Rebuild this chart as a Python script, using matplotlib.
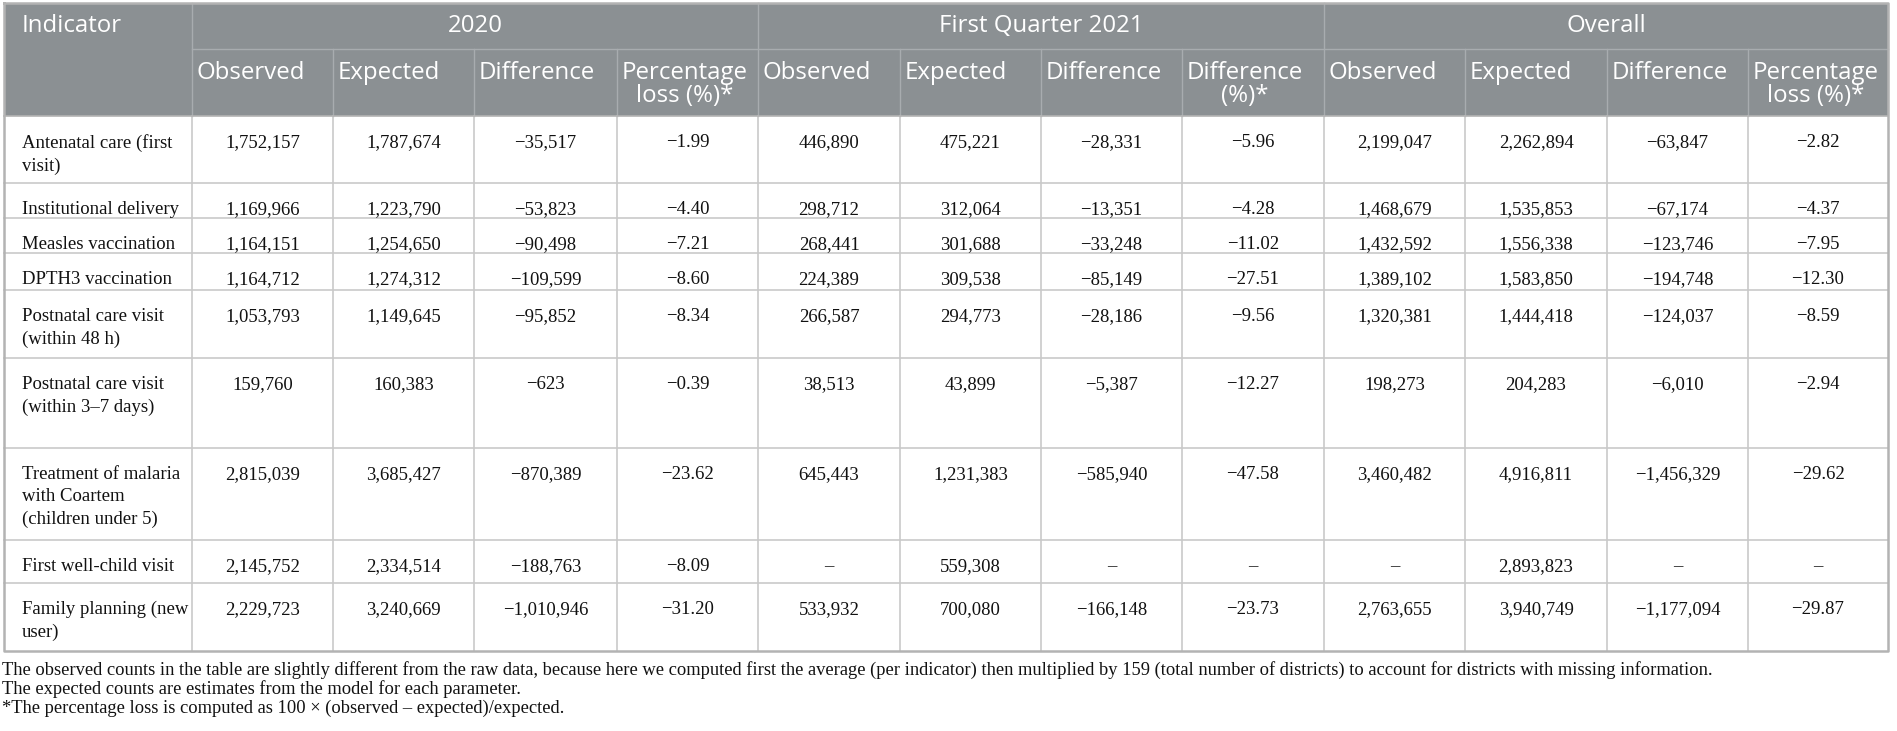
import matplotlib
matplotlib.use("Agg")
import matplotlib.pyplot as plt
from matplotlib.patches import Rectangle

# ---- table data ----
indicators = ["Antenatal care (first\nvisit)", "Institutional delivery", "Measles vaccination",
              "DPTH3 vaccination", "Postnatal care visit\n(within 48 h)",
              "Postnatal care visit\n(within 3\u20137 days)",
              "Treatment of malaria\nwith Coartem\n(children under 5)",
              "First well-child visit", "Family planning (new\nuser)"]

groups = ["2020", "First Quarter 2021", "Overall"]
sub_headers = ["Observed", "Expected", "Difference", "Percentage\nloss (%)*",
               "Observed", "Expected", "Difference", "Difference\n(%)*",
               "Observed", "Expected", "Difference", "Percentage\nloss (%)*"]

obs_2020 = [1752157, 1169966, 1164151, 1164712, 1053793, 159760, 2815039, 2145752, 2229723]
exp_2020 = [1787674, 1223790, 1254650, 1274312, 1149645, 160383, 3685427, 2334514, 3240669]
diff_2020 = [-35517, -53823, -90498, -109599, -95852, -623, -870389, -188763, -1010946]
pct_2020 = [-1.99, -4.40, -7.21, -8.60, -8.34, -0.39, -23.62, -8.09, -31.20]

obs_q1 = [446890, 298712, 268441, 224389, 266587, 38513, 645443, None, 533932]
exp_q1 = [475221, 312064, 301688, 309538, 294773, 43899, 1231383, 559308, 700080]
diff_q1 = [-28331, -13351, -33248, -85149, -28186, -5387, -585940, None, -166148]
pct_q1 = [-5.96, -4.28, -11.02, -27.51, -9.56, -12.27, -47.58, None, -23.73]

obs_all = [2199047, 1468679, 1432592, 1389102, 1320381, 198273, 3460482, None, 2763655]
exp_all = [2262894, 1535853, 1556338, 1583850, 1444418, 204283, 4916811, 2893823, 3940749]
diff_all = [-63847, -67174, -123746, -194748, -124037, -6010, -1456329, None, -1177094]
pct_all = [-2.82, -4.37, -7.95, -12.30, -8.59, -2.94, -29.62, None, -29.87]

footnotes = ["The observed counts in the table are slightly different from the raw data, because here we computed first the average (per indicator) then multiplied by 159 (total number of districts) to account for districts with missing information.",
             "The expected counts are estimates from the model for each parameter.",
             "*The percentage loss is computed as 100 \u00d7 (observed \u2013 expected)/expected."]

columns = [obs_2020, exp_2020, diff_2020, pct_2020,
           obs_q1, exp_q1, diff_q1, pct_q1,
           obs_all, exp_all, diff_all, pct_all]


def fmt(v):
    if v is None:
        return "\u2013"
    if isinstance(v, float):
        s = "%.2f" % abs(v)
    else:
        s = "{:,}".format(abs(v))
    return ("\u2212" + s) if v < 0 else s


# ---- layout (pixels) ----
W, H = 1897, 731
col_x = [4, 192, 333, 474, 617, 758, 900, 1041, 1182, 1324, 1465, 1607, 1748, 1888]
top, mid, hdr_bot = 3, 49, 116
row_y = [116, 183, 218, 253, 290, 358, 448, 540, 583, 651]

head_bg = "#8b9093"
head_line = "#a8acaf"
grid = "#c9c9c9"
border = "#b3b3b3"

fig = plt.figure(figsize=(W / 100, H / 100), dpi=100)
ax = fig.add_axes([0, 0, 1, 1])
ax.set_xlim(0, W)
ax.set_ylim(H, 0)
ax.axis("off")

head_font = "Open Sans"
body_font = "Liberation Serif"

# header background
ax.add_patch(Rectangle((col_x[0], top), col_x[-1] - col_x[0], hdr_bot - top,
                       facecolor=head_bg, edgecolor="none"))
# header lines
ax.plot([col_x[1], col_x[-1]], [mid, mid], color=head_line, lw=1)
for i, x in enumerate(col_x[1:-1], start=1):
    y0 = top if i in (1, 5, 9) else mid
    ax.plot([x, x], [y0, hdr_bot], color=head_line, lw=1)

ax.text(col_x[0] + 18, (top + mid) / 2, "Indicator", color="white", fontsize=17.3,
        family=head_font, ha="left", va="center")
for g, name in enumerate(groups):
    xc = (col_x[1 + 4 * g] + col_x[5 + 4 * g]) / 2
    ax.text(xc, (top + mid) / 2, name, color="white", fontsize=17.3,
            family=head_font, ha="center", va="center")
for j, name in enumerate(sub_headers):
    ax.text(col_x[j + 1] + 5, mid + 12, name, color="white", fontsize=17.3,
            family=head_font, ha="left", va="top", multialignment="center",
            linespacing=0.92)

# body grid
for y in row_y[1:-1]:
    ax.plot([col_x[0], col_x[-1]], [y, y], color=grid, lw=1.2)
for x in col_x[1:-1]:
    ax.plot([x, x], [hdr_bot, row_y[-1]], color=grid, lw=1.2)
ax.plot([col_x[0], col_x[-1], col_x[-1], col_x[0], col_x[0]],
        [top, top, row_y[-1], row_y[-1], top], color=border, lw=1.8)
ax.plot([col_x[0], col_x[-1]], [hdr_bot, hdr_bot], color=border, lw=1.2)

# body text
for r, name in enumerate(indicators):
    yt = row_y[r] + 18
    ax.text(col_x[0] + 18, yt, name, fontsize=13.5, family=body_font,
            color="#111111", ha="left", va="top", linespacing=1.4)
    for c, col in enumerate(columns):
        xc = (col_x[c + 1] + col_x[c + 2]) / 2
        ax.text(xc, yt, fmt(col[r]), fontsize=13.5, family=body_font,
                color="#111111", ha="center", va="top")

for k, line in enumerate(footnotes):
    ax.text(2, 670 + 19 * k, line, fontsize=13.3, family=body_font,
            color="#111111", ha="left", va="center")

fig.savefig("out.png", dpi=100)
